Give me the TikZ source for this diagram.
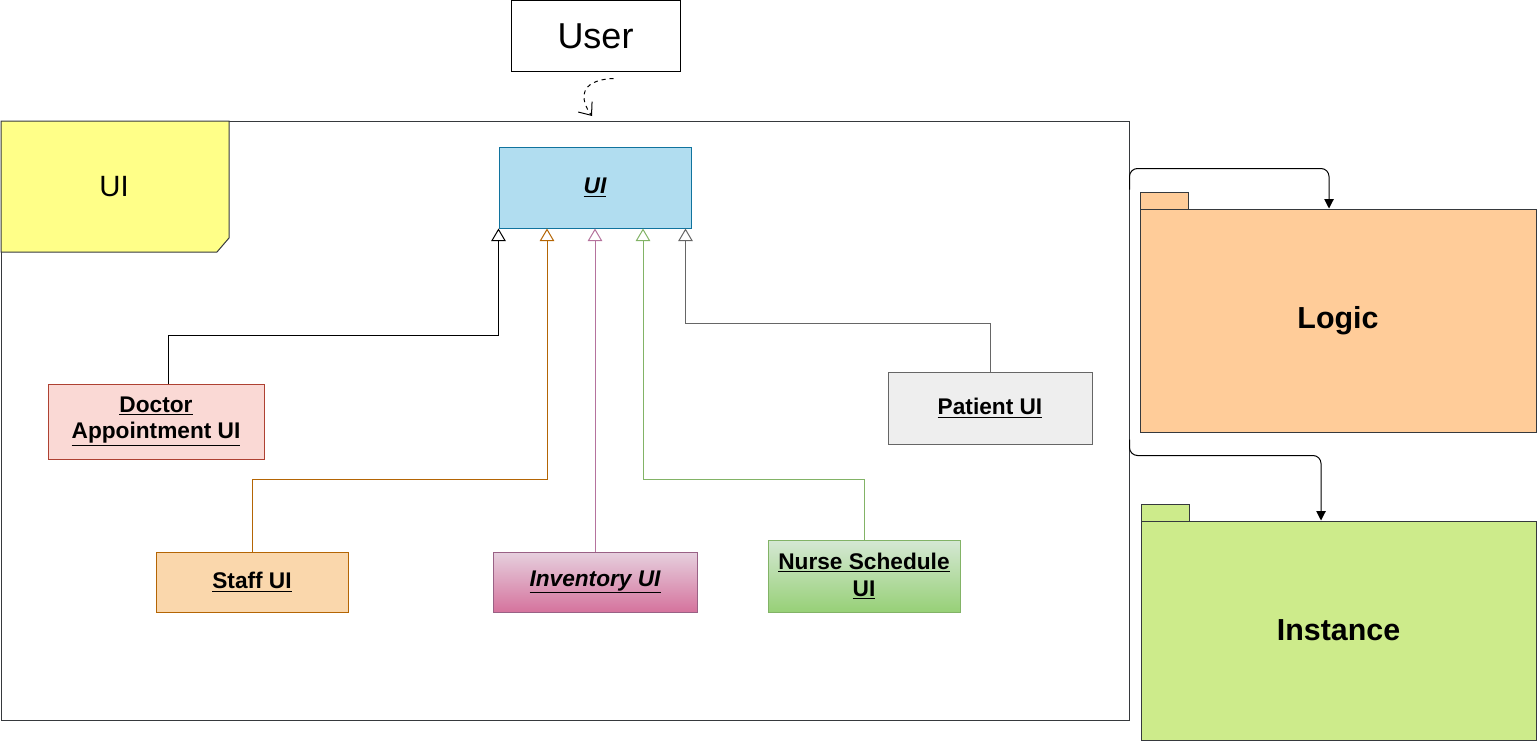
\documentclass[tikz,border=0pt]{standalone}
\usepackage{fontspec}
\setmainfont{Liberation Sans}
\usetikzlibrary{arrows.meta,positioning,calc}
\usepackage{xcolor}
\definecolor{framegray}{HTML}{36393D}
\definecolor{noteyellow}{HTML}{FFFF88}
\definecolor{uiblue}{HTML}{B1DDF0}
\definecolor{uiblueline}{HTML}{10739E}
\definecolor{docred}{HTML}{FAD9D5}
\definecolor{docredline}{HTML}{AE4132}
\definecolor{staffor}{HTML}{FAD7AC}
\definecolor{stafforline}{HTML}{B46504}
\definecolor{invtop}{HTML}{E6D0DE}
\definecolor{invbot}{HTML}{D5739D}
\definecolor{invline}{HTML}{996185}
\definecolor{invedge}{HTML}{B5739D}
\definecolor{nursetop}{HTML}{D5E8D4}
\definecolor{nursebot}{HTML}{97D077}
\definecolor{nurseline}{HTML}{82B366}
\definecolor{patgray}{HTML}{EEEEEE}
\definecolor{patline}{HTML}{666666}
\definecolor{logicor}{HTML}{FFCC99}
\definecolor{instgreen}{HTML}{CDEB8B}
\tikzset{
  clsbox/.style={draw, align=center, inner sep=0pt,
    font=\bfseries\fontsize{17}{20}\selectfont},
  gen/.style={draw=#1, -{Triangle[length=9.5pt,width=11pt,fill=white]}},
  pkgbox/.style={draw=framegray, inner sep=0pt,
    font=\bfseries\fontsize{22.8}{26}\selectfont},
  pkgtab/.style={draw=framegray}
}

\begin{document}
\begin{tikzpicture}[x=0.75pt,y=-0.75pt,line width=0.75pt]
\useasboundingbox (0,0) rectangle (1538,742);

% component frame and its note
\node[draw=framegray, minimum width=846pt, minimum height=449.25pt] (frame) at (565,420.5) {};
\draw[framegray, fill=noteyellow] (1,121) -- (229,121) -- (229,238) -- (217,252) -- (1,252) -- cycle;
\node[font=\fontsize{22}{26}\selectfont] (notelabel) at (114,187) {UI};

\node[draw, minimum width=126.75pt, minimum height=53.25pt, font=\fontsize{27}{32}\selectfont] (user) at (595.5,36.5) {User};

% classes
\node[clsbox, draw=uiblueline, fill=uiblue, minimum width=144pt, minimum height=60.75pt] (ui) at (595,187.5) {\textit{\underline{UI}}};
\node[clsbox, draw=docredline, fill=docred, minimum width=162pt, minimum height=56.25pt] (doctor) at (156,421.5) {\underline{Doctor}\\\underline{Appointment UI}};
\node[clsbox, draw=patline, fill=patgray, minimum width=153pt, minimum height=54pt] (patient) at (990,408) {\underline{Patient UI}};
\node[clsbox, draw=stafforline, fill=staffor, minimum width=144pt, minimum height=45pt] (staff) at (252,582) {\underline{Staff UI}};
\node[clsbox, draw=invline, top color=invtop, bottom color=invbot, minimum width=153pt, minimum height=45pt] (inventory) at (595,582) {\textit{\underline{Inventory UI}}};
\node[clsbox, draw=nurseline, top color=nursetop, bottom color=nursebot, minimum width=144pt, minimum height=54pt] (nurse) at (864,576) {\underline{Nurse Schedule}\\\underline{UI}};

\draw[gen=black] ($(doctor.north)+(12,0)$) -- ++(0,-48) -| (ui.south west);
\draw[gen=stafforline] (staff.north) -- ++(0,-72) -| ($(ui.south)+(-48,0)$);
\draw[gen=invedge] (inventory.north) -- (ui.south);
\draw[gen=nurseline] (nurse.north) -- ++(0,-60) -| ($(ui.south)+(48,0)$);
\draw[gen=patline] (patient.north) -- ++(0,-48) -| ($(ui.south east)+(-6,0)$);

% user dependency
\coordinate (userend) at (592,116);
\draw[dashed, -{Straight Barb[length=8pt,width=13pt]}] ($(user.south)+(18,6)$) .. controls (578,80) and (580,100) .. (userend);

% packages
\draw[pkgtab, fill=logicor] (1140,192) rectangle (1188,209);
\node[pkgbox, fill=logicor, minimum width=297pt, minimum height=167.25pt] (logic) at (1338,320.5) {Logic};
\draw[pkgtab, fill=instgreen] (1141,504) rectangle (1189,521);
\node[pkgbox, fill=instgreen, minimum width=296.25pt, minimum height=164.25pt] (instance) at (1338.5,630.5) {Instance};

\draw[rounded corners=6pt, -{Triangle[length=7pt,width=7pt]}] ($(frame.north east)+(0,69)$) -- ++(0,-21) -| ($(logic.north)+(-9,0)$);
\draw[rounded corners=6pt, -{Triangle[length=7pt,width=7pt]}] ($(frame.north east)+(0,319)$) -- ++(0,16) -| ($(instance.north)+(-17.5,0)$);
\end{tikzpicture}
\end{document}
